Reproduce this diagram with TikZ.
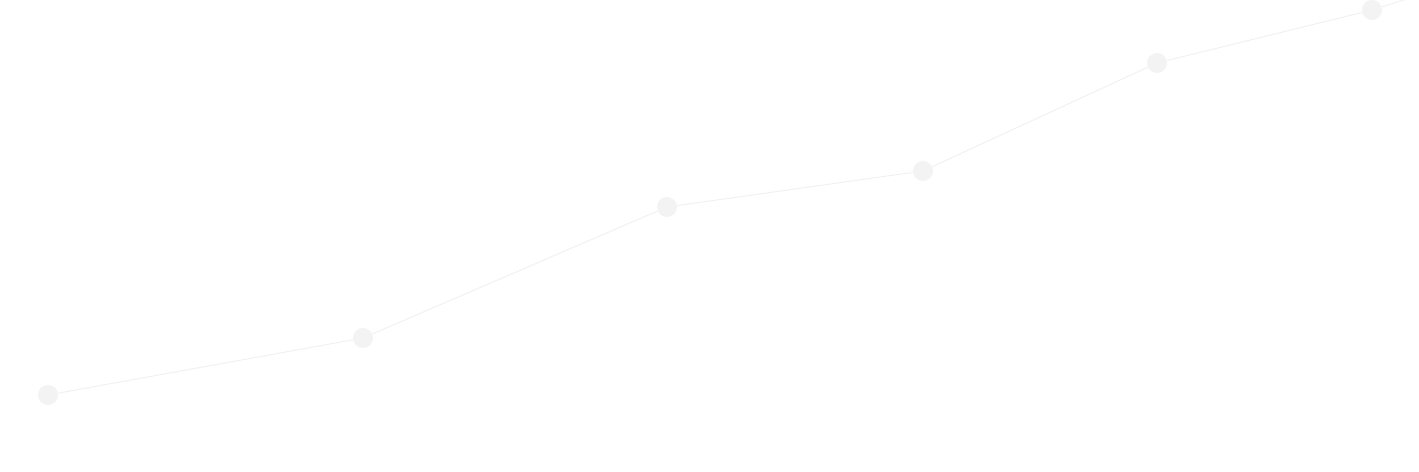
\documentclass[tikz,border=0pt]{standalone}
\usepackage{tikz}

\definecolor{dotgrey}{HTML}{F3F3F3}
\definecolor{linegrey}{HTML}{F0F0F0}

\begin{document}
\begin{tikzpicture}[x=0.02cm,y=0.02cm,point node/.style={circle,fill=dotgrey,inner sep=0pt,minimum size=0.4cm},link/.style={draw=linegrey,line width=0.5pt}]
	\useasboundingbox[fill=white] (0,0) rectangle (1419,472);
	\clip (0,0) rectangle (1419,472);

	\node[point node] (1) at (48,77) {};
	\node[point node] (2) at (363,134) {};
	\node[point node] (3) at (667,265) {};
	\node[point node] (4) at (923,301) {};
	\node[point node] (5) at (1157,409) {};
	\node[point node] (6) at (1372,462) {};
	\coordinate (e) at (1410,474);

	\path[link]
		(1) edge (2)
		(2) edge (3)
		(3) edge (4)
		(4) edge (5)
		(5) edge (6)
		(6) edge (e);
\end{tikzpicture}
\end{document}
